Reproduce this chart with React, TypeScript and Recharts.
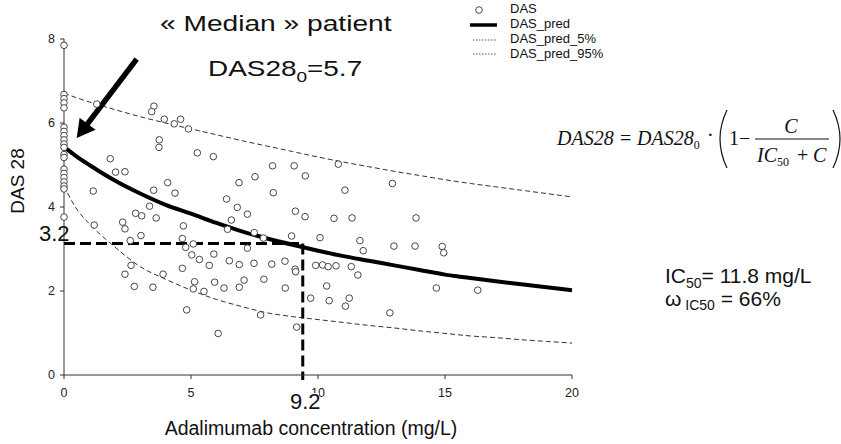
import React from 'react';
import { ComposedChart, Scatter, Line, XAxis, YAxis, ReferenceLine } from 'recharts';

// model curves
const curveX = [0, 0.5, 1, 2, 3, 4, 5, 6, 7, 8, 9, 10, 11, 12, 13, 14, 15, 16, 17, 18, 19, 20];
const predY = [5.43, 5.2, 5.0, 4.63, 4.32, 4.05, 3.84, 3.62, 3.42, 3.25, 3.1, 2.96, 2.83, 2.72, 2.61, 2.5, 2.39, 2.31, 2.23, 2.16, 2.09, 2.02];
const pred5Y = [4.5, 3.95, 3.6, 3.05, 2.58, 2.28, 2.02, 1.8, 1.63, 1.48, 1.39, 1.32, 1.25, 1.18, 1.12, 1.05, 0.99, 0.93, 0.89, 0.84, 0.8, 0.76];
const pred95Y = [6.71, 6.6, 6.5, 6.32, 6.15, 6.0, 5.86, 5.72, 5.58, 5.45, 5.32, 5.19, 5.07, 4.96, 4.85, 4.75, 4.65, 4.56, 4.48, 4.4, 4.32, 4.24];

// observed DAS28 vs adalimumab concentration
const dasX = [
  0, 0, 0, 0, 0, 0, 0, 0, 0, 0, 0, 0, 0, 0, 0, 0, 0, 0, 0, 0,
  1.29, 3.54, 3.45, 3.95, 4.34, 4.59, 4.9, 3.75, 3.74, 5.25, 5.88, 1.82, 2.03, 2.4, 4.08, 3.53, 4.37, 1.15, 3.37,
  6.89, 7.52, 8.21, 9.06, 9.5, 8.24, 6.4, 6.82, 7.22, 9.11, 9.49, 6.59, 6.44, 7.49, 7.85, 8.96, 10.08, 7.22,
  5.09, 5.03, 5.33, 5.9, 5.72, 6.51, 6.9, 7.48, 8.18, 8.7, 9.91, 10.18, 10.4, 10.71, 9.1, 9.12,
  5.14, 5.09, 5.51, 5.93, 6.3, 6.9, 7.09, 7.87, 8.71, 7.74, 6.07, 9.16, 9.71, 10.34, 10.44,
  1.19, 2.31, 2.4, 2.82, 3.06, 3.63, 3.03, 2.61, 4.7, 4.66, 4.79, 2.64, 2.4, 3.9, 4.66, 2.77, 3.5, 4.83,
  10.8, 11.06, 12.93, 10.63, 11.34, 13.86, 11.65, 11.78, 12.99, 13.82, 14.89, 14.95, 11.31, 11.57, 11.23, 11.08, 12.83, 14.66, 16.29,
];
const dasY = [
  7.85, 6.68, 6.58, 6.48, 6.36, 5.9, 5.8, 5.7, 5.6, 5.5, 5.42, 5.25, 5.18, 4.9, 4.8, 4.7, 4.6, 4.5, 4.43, 3.76,
  6.45, 6.4, 6.27, 6.09, 5.98, 6.09, 5.86, 5.6, 5.42, 5.29, 5.2, 5.15, 4.83, 4.84, 4.58, 4.4, 4.33, 4.38, 4.02,
  4.58, 4.72, 4.98, 4.98, 4.74, 4.34, 4.19, 3.99, 3.83, 3.9, 3.77, 3.69, 3.47, 3.39, 3.26, 3.31, 3.27, 3.02,
  3.12, 2.86, 2.75, 2.88, 2.61, 2.72, 2.63, 2.66, 2.64, 2.71, 2.61, 2.62, 2.58, 2.6, 2.52, 2.46,
  2.22, 2.05, 1.99, 2.21, 2.07, 2.09, 2.26, 2.28, 2.07, 1.43, 0.99, 1.14, 1.83, 2.12, 1.77,
  3.57, 3.64, 3.48, 3.85, 3.79, 3.74, 3.32, 3.2, 3.55, 3.25, 3.04, 2.61, 2.4, 2.4, 2.54, 2.11, 2.09, 1.55,
  5.02, 4.4, 4.56, 3.73, 3.74, 3.74, 3.2, 2.96, 3.07, 3.07, 3.06, 2.91, 2.58, 2.38, 1.83, 1.64, 1.48, 2.07, 2.02,
];

const xTicks = [0, 5, 10, 15, 20];
const yTicks = [0, 2, 4, 6, 8];

// "median patient" guides and arrow (data units)
const guideConc = 9.4;
const guideDas = 3.13;
const arrowTail = { x: 2.86, y: 7.52 };
const arrowTip = { x: 0.5, y: 5.64 };

const legendNames = ['DAS', 'DAS_pred', 'DAS_pred_5%', 'DAS_pred_95%'];

const dasData = dasX.map((x, i) => ({ x, y: dasY[i] }));
const predData = curveX.map((x, i) => ({ x, y: predY[i] }));
const pred5Data = curveX.map((x, i) => ({ x, y: pred5Y[i] }));
const pred95Data = curveX.map((x, i) => ({ x, y: pred95Y[i] }));

const SANS = '"Liberation Sans", Arial, sans-serif';
const SERIF = '"Liberation Serif", "Times New Roman", serif';

const OpenDot = (props: any) => (
  <circle cx={props.cx} cy={props.cy} r={3.3} fill="#fff" stroke="#333" strokeWidth={0.9} />
);

const Arrow = (props: any) => {
  const { x1, y1, x2, y2 } = props;
  const dx = x2 - x1;
  const dy = y2 - y1;
  const len = Math.hypot(dx, dy) || 1;
  const ux = dx / len;
  const uy = dy / len;
  const headLen = 18;
  const headW = 10;
  const bx = x2 - ux * headLen;
  const by = y2 - uy * headLen;
  return (
    <g>
      <line x1={x1} y1={y1} x2={bx + ux * 3} y2={by + uy * 3} stroke="#000" strokeWidth={5.5} />
      <polygon
        points={`${x2},${y2} ${bx - uy * headW},${by + ux * headW} ${bx + uy * headW},${by - ux * headW}`}
        fill="#000"
      />
    </g>
  );
};

export default function App() {
  return (
    <div style={{ position: 'absolute', left: 0, top: 0, width: 841, height: 444, background: '#fff' }}>
      <ComposedChart width={841} height={444} margin={{ top: 39, right: 269, bottom: 9, left: 4 }}>
        <XAxis
          type="number"
          dataKey="x"
          domain={[0, 20]}
          ticks={xTicks}
          height={60}
          tickSize={4}
          tickMargin={9}
          axisLine={{ stroke: '#333' }}
          tickLine={{ stroke: '#333' }}
          tick={{ fill: '#222', fontSize: 12.5, fontFamily: SANS }}
        />
        <YAxis
          type="number"
          dataKey="y"
          domain={[0, 8]}
          ticks={yTicks}
          width={60}
          tickSize={4}
          tickMargin={5}
          axisLine={{ stroke: '#333' }}
          tickLine={{ stroke: '#333' }}
          tick={{ fill: '#222', fontSize: 12.5, fontFamily: SANS }}
        />
        <Scatter name="DAS" data={dasData} dataKey="y" shape={OpenDot} isAnimationActive={false} />
        <Line name="DAS_pred_5%" data={pred5Data} dataKey="y" type="monotone" stroke="#333" strokeWidth={1} strokeDasharray="5 3" dot={false} isAnimationActive={false} />
        <Line name="DAS_pred_95%" data={pred95Data} dataKey="y" type="monotone" stroke="#333" strokeWidth={1} strokeDasharray="5 3" dot={false} isAnimationActive={false} />
        <Line name="DAS_pred" data={predData} dataKey="y" type="monotone" stroke="#000" strokeWidth={4} dot={false} isAnimationActive={false} />
        <ReferenceLine
          segment={[{ x: 0, y: guideDas }, { x: guideConc, y: guideDas }]}
          stroke="#000"
          strokeWidth={3}
          strokeDasharray="11 5"
          ifOverflow="visible"
        />
        <ReferenceLine
          segment={[{ x: guideConc, y: guideDas }, { x: guideConc, y: -0.12 }]}
          stroke="#000"
          strokeWidth={3}
          strokeDasharray="11 5"
          ifOverflow="visible"
        />
        <ReferenceLine segment={[arrowTail, arrowTip]} shape={Arrow} ifOverflow="visible" />
      </ComposedChart>

      <svg width={841} height={444} style={{ position: 'absolute', left: 0, top: 0, pointerEvents: 'none' }}>
        {/* titles */}
        <g transform="translate(160,31) scale(1.28,1)">
          <text x={0} y={0} fontFamily={SANS} fontSize={22} fill="#111">« Median » patient</text>
        </g>
        <g transform="translate(208,76) scale(1.27,1)">
          <text x={0} y={0} fontFamily={SANS} fontSize={22} fill="#111">
            DAS28<tspan fontSize={15} dy={6}>0</tspan><tspan dy={-6}>=5.7</tspan>
          </text>
        </g>

        {/* legend */}
        <circle cx={479} cy={10} r={3.3} fill="#fff" stroke="#333" strokeWidth={0.9} />
        <line x1={470} y1={25} x2={497} y2={25} stroke="#000" strokeWidth={3.5} />
        <line x1={473} y1={40} x2={497} y2={40} stroke="#555" strokeWidth={1} strokeDasharray="1.5 1.5" />
        <line x1={473} y1={54} x2={497} y2={54} stroke="#555" strokeWidth={1} strokeDasharray="1.5 1.5" />
        {legendNames.map((n, i) => (
          <text key={n} x={510} y={[13, 28, 43, 58][i]} fontFamily={SANS} fontSize={13} fill="#111">{n}</text>
        ))}

        {/* model formula */}
        <g fontFamily={SERIF} fontSize={20} fill="#111">
          <text x={557} y={145} fontStyle="italic">DAS28</text>
          <text x={620} y={145}>=</text>
          <text x={637} y={145} fontStyle="italic">DAS28<tspan fontSize={12} dy={4} fontStyle="normal">0</tspan></text>
          <text x={707} y={142}>·</text>
          <path d="M727 110 Q713 139 727 168" fill="none" stroke="#111" strokeWidth={1.2} />
          <text x={729} y={145}>1</text>
          <text x={739} y={145}>−</text>
          <text x={791} y={133} fontStyle="italic" textAnchor="middle">C</text>
          <line x1={755} y1={139} x2={829} y2={139} stroke="#111" strokeWidth={1} />
          <text x={757} y={162} fontStyle="italic">IC<tspan fontSize={12} dy={4} fontStyle="normal">50</tspan></text>
          <text x={797} y={162}>+</text>
          <text x={813} y={162} fontStyle="italic">C</text>
          <path d="M833 110 Q847 139 833 168" fill="none" stroke="#111" strokeWidth={1.2} />
        </g>

        {/* parameter estimates */}
        <text x={665} y={283} fontFamily={SANS} fontSize={21} fill="#111">
          IC<tspan fontSize={14} dy={5}>50</tspan><tspan dy={-5}>= 11.8 mg/L</tspan>
        </text>
        <text x={665} y={306} fontFamily={SANS} fontSize={21} fill="#111">
          ω<tspan fontSize={14} dy={4}> IC50</tspan><tspan dy={-4}> = 66%</tspan>
        </text>

        {/* guide values */}
        <text x={39} y={241} fontFamily={SANS} fontSize={22} fill="#111">3.2</text>
        <rect x={303} y={393} width={16} height={16} fill="#fff" />
        <text x={290} y={409} fontFamily={SANS} fontSize={22} fill="#111">9.2</text>

        {/* axis titles */}
        <text x={311} y={435} textAnchor="middle" fontFamily={SANS} fontSize={19.5} fill="#111">
          Adalimumab concentration (mg/L)
        </text>
        <text
          x={17}
          y={181}
          transform="rotate(-90 17 181)"
          textAnchor="middle"
          dy="0.355em"
          fontFamily={SANS}
          fontSize={19}
          fill="#111"
        >
          DAS 28
        </text>
      </svg>
    </div>
  );
}
